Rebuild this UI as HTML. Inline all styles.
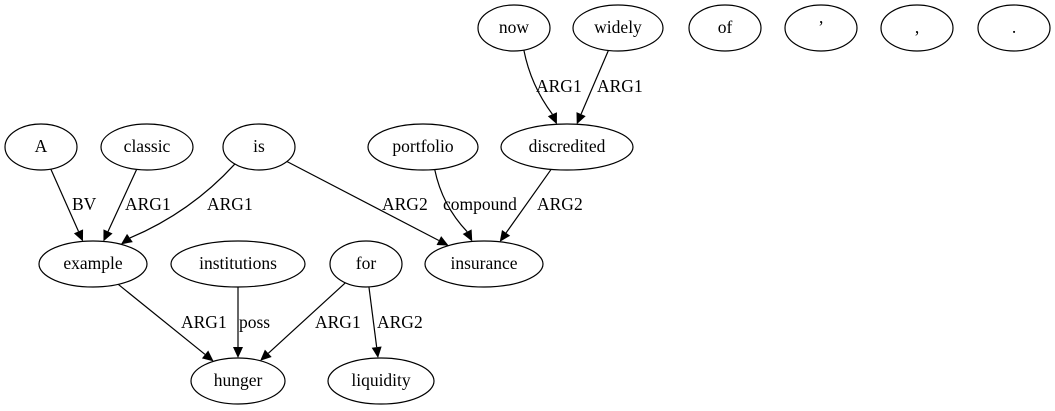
<!DOCTYPE html>
<html><head><meta charset="utf-8"><style>
html,body{margin:0;padding:0;background:#fff;}
svg{display:block;}
text{font-family:"Liberation Serif",serif;font-size:17.5px;fill:#000;}
</style></head><body>
<svg id="g" width="1055" height="411" viewBox="0 0 1055 411"></svg>
<script>
const nodeNames=["now","widely","of","’",",",".","A","classic","is","portfolio","discredited","example","institutions","for","insurance","hunger","liquidity"];
const nodeX=[514,618,725,821,917,1014,41,147,259,423,567,93,238,366,484,238,381];
const nodeY=[28,28,28,28,28,28,147,147,147,147,147,264,264,264,264,381,381];
const nodeRx=[36,45,36,36,36,36,36,46,36,55,66,54,67,36,59,47,53];
const edgeFrom=["now","widely","A","classic","is","is","portfolio","discredited","example","institutions","for","for"];
const edgeTo=["discredited","discredited","example","example","example","insurance","insurance","insurance","hunger","hunger","hunger","liquidity"];
const edgeLabels=["ARG1","ARG1","BV","ARG1","ARG1","ARG2","compound","ARG2","ARG1","poss","ARG1","ARG2"];
const edgeBend=[4,0,0,0,-7,0,5,0,0,0,0,0];
const labelX=[536,597,72,125,207,382,443,537,181,239,315,377];
const labelY=[92,92,210,210,210,210,210,210,328,328,328,328];
const RY=23;
const NS="http://www.w3.org/2000/svg";
const svg=document.getElementById('g');
function idx(n){return nodeNames.indexOf(n);}
function bnd(i,dx,dy){const t=1/Math.sqrt((dx/nodeRx[i])**2+(dy/RY)**2);return [nodeX[i]+dx*t,nodeY[i]+dy*t];}
edgeFrom.forEach((f,k)=>{
  const a=idx(f),b=idx(edgeTo[k]);
  const dx=nodeX[b]-nodeX[a],dy=nodeY[b]-nodeY[a];
  const p=bnd(a,dx,dy),q=bnd(b,-dx,-dy);
  const L=Math.hypot(q[0]-p[0],q[1]-p[1]);const ux=(q[0]-p[0])/L,uy=(q[1]-p[1])/L;
  const ex=q[0]-ux*11,ey=q[1]-uy*11;
  const mx=(p[0]+ex)/2-uy*edgeBend[k]*2,my=(p[1]+ey)/2+ux*edgeBend[k]*2;
  const ln=document.createElementNS(NS,'path');
  
  
  ln.setAttribute('d',`M${p[0]},${p[1]} Q${mx},${my} ${ex},${ey}`);
  ln.setAttribute('fill','none');
  ln.setAttribute('stroke','#000');ln.setAttribute('stroke-width','1.2');
  svg.appendChild(ln);
  const ah=document.createElementNS(NS,'polygon');
  
  
  const px=-uy*5,py=ux*5;
  ah.setAttribute('points',`${q[0]},${q[1]} ${ex+px},${ey+py} ${ex-px},${ey-py}`);
  svg.appendChild(ah);
  const t=document.createElementNS(NS,'text');
  
  
  t.setAttribute('x',labelX[k]);t.setAttribute('y',labelY[k]);
  t.textContent=edgeLabels[k];
  svg.appendChild(t);
});
nodeNames.forEach((n,i)=>{
  const e=document.createElementNS(NS,'ellipse');
  
  
  e.setAttribute('cx',nodeX[i]);e.setAttribute('cy',nodeY[i]);e.setAttribute('rx',nodeRx[i]);e.setAttribute('ry',RY);
  e.setAttribute('fill','#fff');e.setAttribute('stroke','#000');e.setAttribute('stroke-width','1.2');
  svg.appendChild(e);
  const t=document.createElementNS(NS,'text');
  
  
  t.setAttribute('x',nodeX[i]);t.setAttribute('y',nodeY[i]+5);t.setAttribute('text-anchor','middle');
  t.textContent=n;
  svg.appendChild(t);
});
</script>
</body></html>
